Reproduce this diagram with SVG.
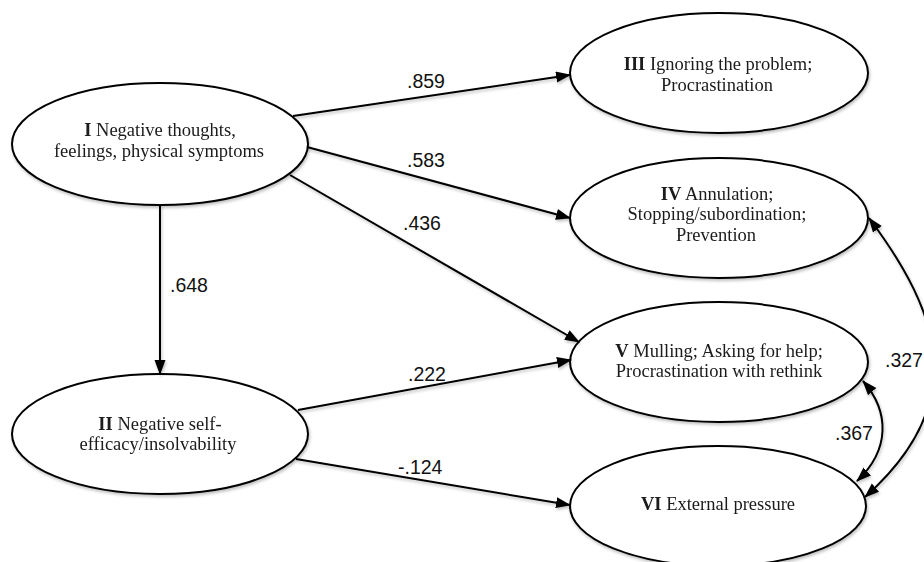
<svg xmlns="http://www.w3.org/2000/svg" width="924" height="562" viewBox="0 0 924 562">
  <defs>
    <style>
      .node ellipse { fill: #ffffff; stroke: #000000; stroke-width: 2; }
      .node text { font-family: "Liberation Serif", "Times New Roman", serif; font-size: 18.5px; fill: #1a1a1a; text-anchor: middle; }
      .node tspan.num { font-weight: bold; }
      .edge { fill: none; stroke: #000000; stroke-width: 2; }
      .arrow { marker-end: url(#head); }
      .both { marker-start: url(#head); marker-end: url(#head); }
      .lbl { font-family: "Liberation Sans", Arial, sans-serif; font-size: 19.5px; fill: #111111; }
    </style>
    <marker id="head" markerUnits="userSpaceOnUse" markerWidth="16" markerHeight="12" refX="14" refY="5.5" orient="auto-start-reverse" viewBox="0 0 16 12">
      <path d="M0,0 L15,5.5 L0,11 Z" fill="#000000"/>
    </marker>
    <filter id="shadow" x="-10%" y="-10%" width="130%" height="130%">
      <feDropShadow dx="1" dy="2" stdDeviation="1.5" flood-color="#000000" flood-opacity="0.25"/>
    </filter>
  </defs>
  <rect x="0" y="0" width="924" height="562" fill="#ffffff"/>

  <g id="node-I" class="node" filter="url(#shadow)">
    <ellipse cx="160" cy="144" rx="148" ry="61"/>
    <text x="160" y="136"><tspan class="num">I</tspan> Negative thoughts,</text>
    <text x="159" y="157">feelings, physical symptoms</text>
  </g>
  <g id="node-II" class="node" filter="url(#shadow)">
    <ellipse cx="160" cy="434" rx="148" ry="60"/>
    <text x="160" y="430"><tspan class="num">II</tspan> Negative self-</text>
    <text x="158" y="450">efficacy/insolvability</text>
  </g>
  <g id="node-III" class="node" filter="url(#shadow)">
    <ellipse cx="719" cy="73" rx="149" ry="60"/>
    <text x="718" y="70"><tspan class="num">III</tspan> Ignoring the problem;</text>
    <text x="717" y="91">Procrastination</text>
  </g>
  <g id="node-IV" class="node" filter="url(#shadow)">
    <ellipse cx="719" cy="218" rx="149" ry="60"/>
    <text x="717" y="200"><tspan class="num">IV</tspan> Annulation;</text>
    <text x="717" y="220">Stopping/subordination;</text>
    <text x="716" y="241">Prevention</text>
  </g>
  <g id="node-V" class="node" filter="url(#shadow)">
    <ellipse cx="719" cy="362" rx="149" ry="60"/>
    <text x="719" y="357"><tspan class="num">V</tspan> Mulling; Asking for help;</text>
    <text x="719" y="377">Procrastination with rethink</text>
  </g>
  <g id="node-VI" class="node" filter="url(#shadow)">
    <ellipse cx="718" cy="506" rx="148" ry="60"/>
    <text x="718" y="510"><tspan class="num">VI</tspan> External pressure</text>
  </g>

  <g id="connectors" filter="url(#shadow)">
    <line class="edge arrow" x1="293" y1="116" x2="570" y2="75"/>
    <line class="edge arrow" x1="307" y1="147" x2="570" y2="218"/>
    <line class="edge arrow" x1="290" y1="175" x2="579" y2="342"/>
    <line class="edge arrow" x1="160" y1="205" x2="160" y2="374"/>
    <line class="edge arrow" x1="298" y1="410" x2="571" y2="360"/>
    <line class="edge arrow" x1="296" y1="459" x2="570" y2="505"/>
    <path class="edge both" d="M863,381 C890,412 890,450 857,481"/>
    <path class="edge both" d="M869,218 C941,314 971,403 865,497"/>
  </g>

  <g id="labels">
    <text class="lbl" x="407" y="88">.859</text>
    <text class="lbl" x="407" y="167">.583</text>
    <text class="lbl" x="403" y="230">.436</text>
    <text class="lbl" x="170" y="292">.648</text>
    <text class="lbl" x="408" y="381">.222</text>
    <text class="lbl" x="398" y="474">-.124</text>
    <text class="lbl" x="835" y="440">.367</text>
    <text class="lbl" x="885" y="367">.327</text>
  </g>
</svg>
